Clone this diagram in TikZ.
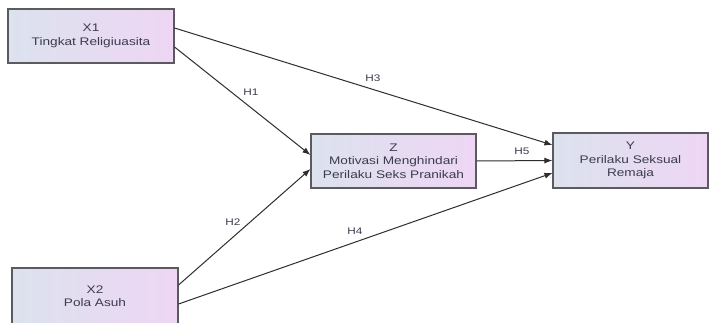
\documentclass[tikz,border=0pt]{standalone}
\usepackage{fontspec}
\setmainfont{Liberation Sans}
\newfontfamily\boxfont[FakeStretch=1.24]{Liberation Sans}
\usetikzlibrary{arrows.meta}
\definecolor{boxleft}{HTML}{DCE2EE}
\definecolor{boxright}{HTML}{EED6F4}
\definecolor{boxline}{HTML}{5A5A60}
\definecolor{txt}{HTML}{3C3C4E}
\definecolor{edge}{HTML}{2E2E2E}
\begin{document}
\begin{tikzpicture}[x=1pt,y=-1pt,
  var/.style={draw=boxline,line width=1.1pt,left color=boxleft,right color=boxright,
    align=center,font=\boxfont\fontsize{11}{13.5}\selectfont,text=txt,inner sep=0pt},
  link/.style={draw=edge,line width=1pt,-{Latex[length=8pt,width=6pt]}},
  hyp/.style={font=\boxfont\fontsize{9.5}{10}\selectfont,text=txt,inner sep=0pt}]
\useasboundingbox[fill=white] (0,0) rectangle (710,322);
\begin{scope}
\clip (0,0) rectangle (710,322);
\node[var,minimum width=166pt,minimum height=54pt] (X1) at (91,36) {X1\\Tingkat Religiuasita};
\node[var,minimum width=165pt,minimum height=54pt] (Z) at (393.5,161) {Z\\Motivasi Menghindari\\Perilaku Seks Pranikah};
\node[var,minimum width=155pt,minimum height=55pt] (Y) at (630.5,160.5) {Y\\Perilaku Seksual\\Remaja};
\node[var,minimum width=166pt,minimum height=56pt] (X2) at (95,296) {X2\\Pola Asuh};
\end{scope}
\draw[link] ([yshift=8pt]X1.east) -- ([yshift=15.5pt]Y.west);
\draw[link] ([yshift=-11pt]X1.east) -- ([yshift=6pt]Z.west);
\draw[link] (Z.east) -- (Y.west);
\draw[link] ([yshift=11pt]X2.east) -- ([yshift=-8pt]Z.west);
\draw[link] ([yshift=-8pt]X2.east) -- ([yshift=-12.5pt]Y.west);
\node[hyp] (h1) at (251,92) {H1};
\node[hyp] (h3) at (373,78) {H3};
\node[hyp] (h5) at (522,151) {H5};
\node[hyp] (h2) at (233,222) {H2};
\node[hyp] (h4) at (355,231) {H4};
\end{tikzpicture}
\end{document}
